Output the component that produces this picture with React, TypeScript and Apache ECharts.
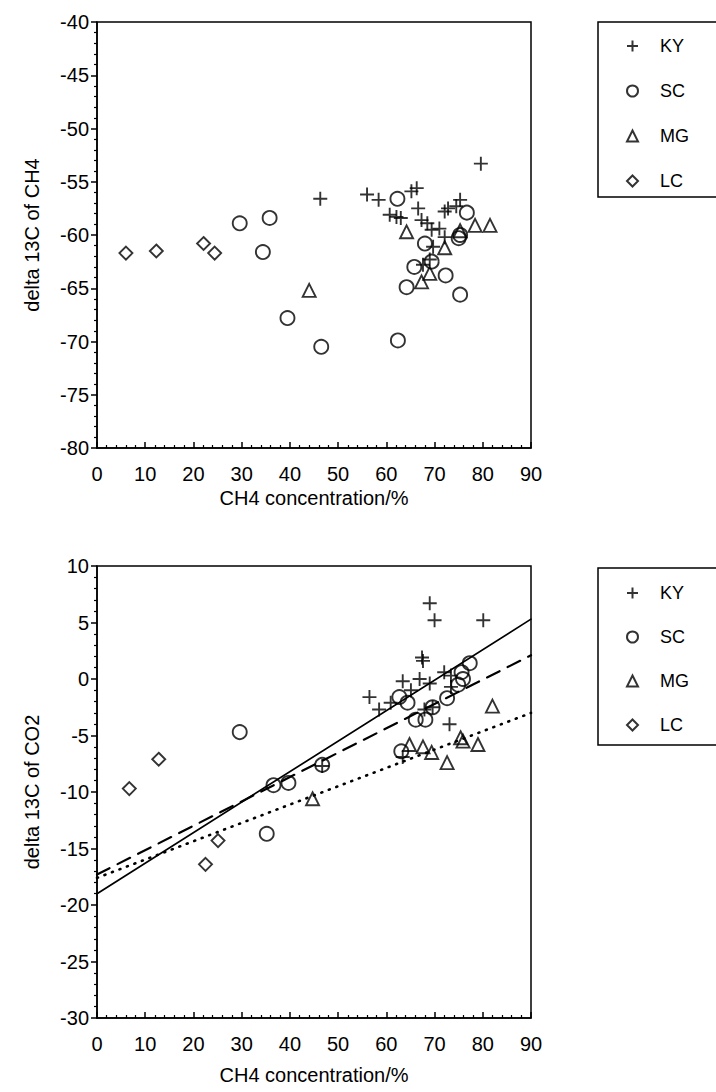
import React, { useEffect, useRef } from "react";
import * as echarts from "echarts";

// ---------- data ----------
const seriesNames = ["KY", "SC", "MG", "LC"];
const xTitle = "CH4 concentration/%";

// top panel: delta 13C of CH4 vs CH4 concentration
const kyTop = [
  [79.6, -53.3], [46.3, -56.6], [56.0, -56.2], [58.4, -56.7], [65.2, -55.9], [66.3, -55.6],
  [60.7, -58.1], [62.1, -58.3], [63.0, -58.4], [66.6, -57.5], [67.3, -58.6], [69.4, -59.5],
  [69.7, -61.1], [69.0, -62.3], [72.1, -57.8], [72.8, -57.5], [75.3, -56.7], [74.5, -57.3],
  [72.1, -60.2], [67.6, -62.8], [68.5, -58.9], [71.0, -59.4],
];
const scTop = [
  [29.6, -58.9], [35.8, -58.4], [34.4, -61.6], [39.5, -67.8], [46.5, -70.5], [62.3, -56.6],
  [62.4, -69.9], [76.7, -57.9], [68.0, -60.8], [69.4, -62.5], [65.8, -63.0], [64.2, -64.9],
  [72.3, -63.8], [75.3, -65.6], [75.3, -60.0], [75.0, -60.3],
];
const mgTop = [
  [44.0, -65.2], [64.2, -59.7], [72.1, -61.2], [75.3, -59.6], [78.4, -59.1], [81.5, -59.1],
  [69.0, -63.6], [67.3, -64.4],
];
const lcTop = [[6.0, -61.7], [12.3, -61.5], [22.1, -60.8], [24.4, -61.7]];

// bottom panel: delta 13C of CO2 vs CH4 concentration
const kyBot = [
  [69.0, 6.7], [70.0, 5.2], [80.1, 5.2], [67.4, 1.9], [67.6, 1.6], [63.4, -0.2], [66.9, 0.0],
  [69.0, -0.4], [72.0, 0.6], [73.4, 0.3], [65.1, -1.0], [56.5, -1.6], [58.5, -2.7], [60.9, -2.1],
  [67.9, -2.7], [69.6, -2.5], [73.1, -4.0], [63.4, -6.9], [46.7, -7.7], [73.4, -0.7],
];
const scBot = [
  [29.6, -4.7], [35.2, -13.7], [36.6, -9.4], [39.7, -9.2], [46.7, -7.6], [62.7, -1.6],
  [64.4, -2.1], [66.1, -3.6], [68.1, -3.6], [69.6, -2.5], [72.6, -1.7], [74.9, -0.5],
  [75.9, 0.0], [75.6, 0.6], [77.3, 1.4], [63.1, -6.4],
];
const mgBot = [
  [44.7, -10.6], [64.8, -5.8], [67.6, -6.0], [69.4, -6.5], [72.6, -7.4], [75.4, -5.2],
  [75.9, -5.5], [79.0, -5.8], [82.0, -2.4],
];
const lcBot = [[6.7, -9.7], [12.8, -7.1], [22.5, -16.4], [25.1, -14.3]];

// regression lines (end points)
const solidLine = [[0, -19.0], [90, 5.3]];
const dashedLine = [[0, -17.3], [90, 2.1]];
const dottedLine = [[0, -17.6], [90, -3.0]];

const PLUS = "path://M6,0L6,12M0,6L12,6";
const symbols = [PLUS, "circle", "triangle", "diamond"];
const sizes = [14, 14, 13, 13];

export default function App() {
  const ref = useRef<HTMLDivElement>(null);
  useEffect(() => {
    if (!ref.current) return;
    const chart = echarts.init(ref.current, null, { renderer: "svg" });
    const font = "'Liberation Sans', Arial, sans-serif";
    const black = "#000";
    const FS = 20;

    const xAxis = (gi: number, gap: number) => ({
      gridIndex: gi,
      type: "value",
      min: 0,
      max: 90,
      interval: 10,
      axisLine: { show: true, onZero: false, lineStyle: { color: black, width: 1.5 } },
      axisTick: { show: true, inside: true, length: 6, lineStyle: { color: black, width: 1.5 } },
      minorTick: { show: true, splitNumber: 5, length: 3, lineStyle: { color: black, width: 1.2 } },
      splitLine: { show: false },
      axisLabel: { color: black, fontSize: FS, margin: 16, fontFamily: font },
      name: xTitle,
      nameLocation: "middle",
      nameGap: gap,
      nameTextStyle: { color: black, fontSize: FS, fontFamily: font },
    });
    const yAxis = (gi: number, min: number, max: number, name: string) => ({
      gridIndex: gi,
      type: "value",
      min,
      max,
      interval: 5,
      axisLine: { show: true, onZero: false, lineStyle: { color: black, width: 1.5 } },
      axisTick: { show: true, inside: false, length: 6, lineStyle: { color: black, width: 1.5 } },
      minorTick: { show: true, splitNumber: 5, length: 3, lineStyle: { color: black, width: 1.2 } },
      splitLine: { show: false },
      axisLabel: { color: black, fontSize: FS, margin: 8, fontFamily: font },
      name,
      nameLocation: "middle",
      nameGap: 55,
      nameTextStyle: { color: black, fontSize: FS, fontFamily: font },
    });

    const scatter = (gi: number, idx: number, data: number[][]) => ({
      type: "scatter",
      name: seriesNames[idx],
      xAxisIndex: gi,
      yAxisIndex: gi,
      data,
      symbol: symbols[idx],
      symbolSize: sizes[idx],
      itemStyle: { color: "rgba(0,0,0,0)", borderColor: black, borderWidth: 1.9 },
    });
    const line = (data: number[][], type: any, width: number) => ({
      type: "line",
      xAxisIndex: 1,
      yAxisIndex: 1,
      data,
      symbol: "none",
      silent: true,
      lineStyle: { color: black, width, type, cap: "round" },
    });
    const legend = (top: number, gap: number) => ({
      orient: "vertical",
      left: 621,
      top,
      itemWidth: 11,
      itemHeight: 11,
      itemGap: gap,
      data: seriesNames,
      selectedMode: false,
      textStyle: { color: black, fontSize: 18, fontFamily: font, padding: [0, 0, 0, 17] },
    });

    chart.setOption({
      animation: false,
      backgroundColor: "#fff",
      textStyle: { fontFamily: font },
      grid: [
        { left: 97, top: 22, width: 434, height: 426, show: true, borderColor: black, borderWidth: 1.5, backgroundColor: "transparent" },
        { left: 97, top: 566, width: 434, height: 452, show: true, borderColor: black, borderWidth: 1.5, backgroundColor: "transparent" },
      ],
      xAxis: [xAxis(0, 40), xAxis(1, 47)],
      yAxis: [yAxis(0, -80, -40, "delta 13C of CH4"), yAxis(1, -30, 10, "delta 13C of CO2")],
      legend: [legend(32, 27), legend(579, 26)],
      graphic: [
        { type: "rect", shape: { x: 598, y: 22, width: 140, height: 175 }, style: { fill: "none", stroke: black, lineWidth: 1.5 } },
        { type: "rect", shape: { x: 598, y: 568, width: 140, height: 177 }, style: { fill: "none", stroke: black, lineWidth: 1.5 } },
      ],
      series: [
        scatter(0, 0, kyTop),
        scatter(0, 1, scTop),
        scatter(0, 2, mgTop),
        scatter(0, 3, lcTop),
        scatter(1, 0, kyBot),
        scatter(1, 1, scBot),
        scatter(1, 2, mgBot),
        scatter(1, 3, lcBot),
        line(solidLine, "solid", 1.7),
        line(dashedLine, [14, 9], 2.2),
        line(dottedLine, [1, 7], 2.6),
      ],
    });
    return () => chart.dispose();
  }, []);
  return (
    <div
      ref={ref}
      style={{ position: "fixed", left: 0, top: 0, width: 716, height: 1092, background: "#fff" }}
    />
  );
}
